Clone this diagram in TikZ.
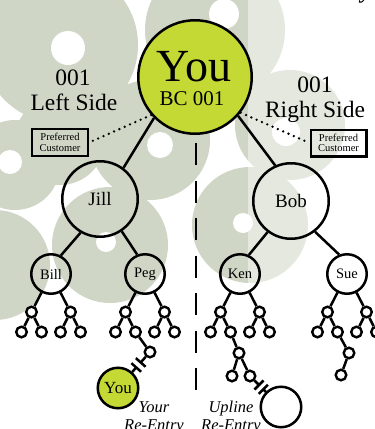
\documentclass[tikz,border=0pt]{standalone}
\usepackage{fontspec}
\setmainfont{Liberation Serif}
\usetikzlibrary{positioning,calc}

\definecolor{sage}{RGB}{207,214,198}
\definecolor{lime}{RGB}{196,217,52}

\newcommand{\fsz}[2]{\fontsize{#1}{#2}\selectfont}
% double-bar link to a re-entry spot
\newcommand{\reentry}[2]{%
  \path ($(#1)!0.29!(#2)$) coordinate (#1-cut1)
        ($(#1)!0.43!(#2)$) coordinate (#1-cut2);
  \draw[branch] (#1) -- (#1-cut1);
  \draw[branch] (#1-cut2) -- (#2);
  \draw[branch] ($(#1-cut1)!6.5pt!90:(#2)$) -- ($(#1-cut1)!6.5pt!-90:(#2)$);
  \draw[branch] ($(#1-cut2)!6.5pt!90:(#2)$) -- ($(#1-cut2)!6.5pt!-90:(#2)$);
}

\begin{document}
\begin{tikzpicture}[x=1pt, y=-1pt, on grid,
    member/.style={circle, draw, line width=2.5pt, minimum size=39.5pt, inner sep=0pt, font=\fsz{14.5}{16}},
    leader/.style={member, minimum size=75.5pt, font=\fsz{19}{21}},
    twig/.style={circle, draw, line width=2.4pt, minimum size=10.6pt, inner sep=0pt},
    branch/.style={line width=2.5pt},
    pcbox/.style={draw, line width=2.4pt, minimum width=55.6pt, minimum height=26.6pt, inner sep=0pt, align=center, font=\fsz{10.5}{10.7}},
    sidelabel/.style={font=\fsz{23.5}{25}, inner sep=0pt},
    relabel/.style={font=\fsz{16.5}{18}\itshape, align=center, inner sep=0pt},
    divider/.style={line width=2.5pt, dash pattern=on 22pt off 15.5pt},
    dotline/.style={line width=2.6pt, line cap=round, dash pattern=on 0pt off 5.8pt}]
    \useasboundingbox (0,0) rectangle (375,429);
    \clip (0,0) rectangle (375,429);
    \fill[white] (0,0) rectangle (375,429);

    % background blobs
    \fill[sage] (60,45) circle[radius=78] (215,30) circle[radius=70]
        (290,125) circle[radius=55] (250,225) circle[radius=58]
        (150,140) circle[radius=60] (15,165) circle[radius=45]
        (-5,265) circle[radius=55] (110,245) circle[radius=58]
        (60,140) circle[radius=45];
    \fill[white] (68,48) circle[radius=17] (224,14) circle[radius=15]
        (286,132) circle[radius=14] (243,223) circle[radius=10]
        (160,145) circle[radius=13] (10,162) circle[radius=12]
        (106,242) circle[radius=10];
    \fill[white, opacity=0.45] (248,0) rectangle (375,429);
    \node[anchor=base, font=\fsz{22}{22}\bfseries\itshape] (cutoff) at (366,-1.5) {y};

    % top
    \node[member, fill=lime, minimum size=113.5pt] (you) at (195,77) {};
    \node[anchor=base, font=\fsz{46}{46}] (youname) at (194,81.7) {You};
    \node[anchor=base, font=\fsz{21}{21}] (youid) at (192,105) {BC 001};

    % 1st level
    \node[leader, below left=122pt and 95pt of you] (jill) {Jill};
    \node[leader, below right=124pt and 96pt of you] (bob) {Bob};
    \draw[branch] (you.225) -- (jill.53);
    \draw[branch] (you.318) -- (bob.114);

    % 2nd level
    \node[member, below left=75pt and 49pt of jill] (bill) {Bill};
    \node[member, below right=75pt and 45pt of jill] (peg) {Peg};
    \node[member, below left=73pt and 51pt of bob] (ken) {Ken};
    \node[member, below right=73pt and 56pt of bob] (sue) {Sue};
    \draw[branch] (jill.240) -- (bill.62);
    \draw[branch] (jill.304) -- (peg.112);
    \draw[branch] (bob.233) -- (ken.65);
    \draw[branch] (bob.308) -- (sue.112);

    % small trees
    \foreach \p in {bill,peg,ken,sue} {
        \node[twig, below left=38pt and 19.5pt of \p] (\p-l) {};
        \node[twig, below right=38pt and 19.5pt of \p] (\p-r) {};
        \draw[branch] (\p) -- (\p-l) (\p) -- (\p-r);
        \foreach \s in {l,r} {
            \node[twig, below left=20pt and 10pt of \p-\s] (\p-\s1) {};
            \node[twig, below right=20pt and 10pt of \p-\s] (\p-\s2) {};
            \draw[branch] (\p-\s) -- (\p-\s1) (\p-\s) -- (\p-\s2);
        }
    }

    % re-entries
    \node[twig, below right=20pt and 14.5pt of peg-l2] (peg-x) {};
    \draw[branch] (peg-l2) -- (peg-x);
    \node[member, fill=lime, minimum size=40.5pt, font=\fsz{17}{17}, below left=36pt and 32pt of peg-x] (yourspot) {You};
    \reentry{peg-x}{yourspot}

    \node[twig, below right=21pt and 8.5pt of ken-l2] (ken-x) {};
    \node[twig, below left=23pt and 7pt of ken-x] (ken-x1) {};
    \node[twig, below right=23pt and 11pt of ken-x] (ken-x2) {};
    \draw[branch] (ken-l2) -- (ken-x) (ken-x) -- (ken-x1) (ken-x) -- (ken-x2);
    \node[member, minimum size=40.5pt, below right=31pt and 31pt of ken-x2] (uplinespot) {};
    \reentry{ken-x2}{uplinespot}

    \node[twig, below right=21pt and 11.5pt of sue-l2] (sue-x) {};
    \node[twig, below left=22pt and 8pt of sue-x] (sue-x1) {};
    \draw[branch] (sue-l2) -- (sue-x) (sue-x) -- (sue-x1);

    % divider
    \coordinate (divtop) at (196,143);
    \coordinate (divbot) at (196,390);
    \draw[divider] (divtop) -- (divbot);

    % preferred customers
    \node[pcbox] (lpc) at (60,142.5) {Preferred\\Customer};
    \node[pcbox] (rpc) at (338.5,143) {Preferred\\Customer};
    \draw[dotline] (you.221) -- (lpc.east);
    \draw[dotline] (you.322) -- (rpc.west);

    % labels
    \node[sidelabel, anchor=base] (lnum) at (73,85) {001};
    \node[sidelabel, anchor=base] (lside) at (74,110.5) {Left Side};
    \node[sidelabel, anchor=base] (rnum) at (315,92) {001};
    \node[sidelabel, anchor=base] (rside) at (315,117.3) {Right Side};
    \node[relabel, anchor=north] (yourlbl) at (154,401) {Your\\Re-Entry};
    \node[relabel, anchor=north] (uplinelbl) at (231,401) {Upline\\Re-Entry};
\end{tikzpicture}
\end{document}
